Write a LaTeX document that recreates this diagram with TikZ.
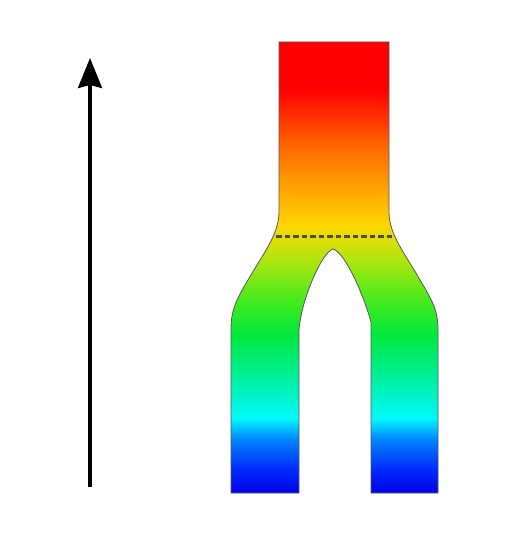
\documentclass[tikz,border=0pt]{standalone}
\usepackage{tikz}
\usetikzlibrary{arrows.meta}

\definecolor{sblue}{RGB}{0,0,235}
\definecolor{sblue2}{RGB}{0,40,250}
\definecolor{sazure}{RGB}{0,130,255}
\definecolor{scyan}{RGB}{0,250,250}
\definecolor{sspring}{RGB}{0,240,165}
\definecolor{sgreen}{RGB}{0,232,60}
\definecolor{slime}{RGB}{70,235,30}
\definecolor{schart}{RGB}{175,230,15}
\definecolor{syellow}{RGB}{255,215,0}
\definecolor{sorange}{RGB}{255,110,0}
\definecolor{sred}{RGB}{255,0,0}

\pgfdeclareverticalshading{spectrum}{100bp}{color(0bp)=(sblue); color(25bp)=(sblue);
  color(27.5bp)=(sblue2); color(30.9bp)=(sazure); color(33.3bp)=(scyan);
  color(37.5bp)=(sspring); color(42.5bp)=(sgreen); color(46.4bp)=(slime);
  color(50.8bp)=(schart); color(54.7bp)=(syellow); color(63bp)=(sorange);
  color(69.7bp)=(sred); color(75bp)=(sred); color(100bp)=(sred)}

\begin{document}
\begin{tikzpicture}[x=1pt, y=-1pt,
    axis/.style = {line width=3.4pt, -{Stealth[length=30pt, width=24pt, inset=3pt]}},
    tree/.style = {shading=spectrum, draw=black!65, line width=0.8pt},
    split/.style = {draw=black!70, line width=3pt, dash pattern=on 5.5pt off 3pt}]
            \useasboundingbox (0,0) rectangle (512,537);

            % time axis
            \coordinate (base) at (90,487);
            \coordinate (tip) at (90,58);
            \draw[axis] (base) -- (tip);

            % trunk splitting into two branches
            \path[tree] (279,42) -- (279,212)
                .. controls (279,235) and (262,255) .. (248,280)
                .. controls (236,300) and (231,310) .. (231,330)
                -- (231,493) -- (299,493) -- (299,330)
                .. controls (301,300) and (322,252) .. (333,249)
                .. controls (344,252) and (362,290) .. (371,322)
                -- (371,493) -- (438,493) -- (438,330)
                .. controls (438,310) and (432,300) .. (420,280)
                .. controls (406,255) and (389,235) .. (389,212)
                -- (389,42) -- cycle;

            \coordinate (splitL) at (276,236);
            \coordinate (splitR) at (392,236);
            \draw[split] (splitL) -- (splitR);
        \end{tikzpicture}
\end{document}
